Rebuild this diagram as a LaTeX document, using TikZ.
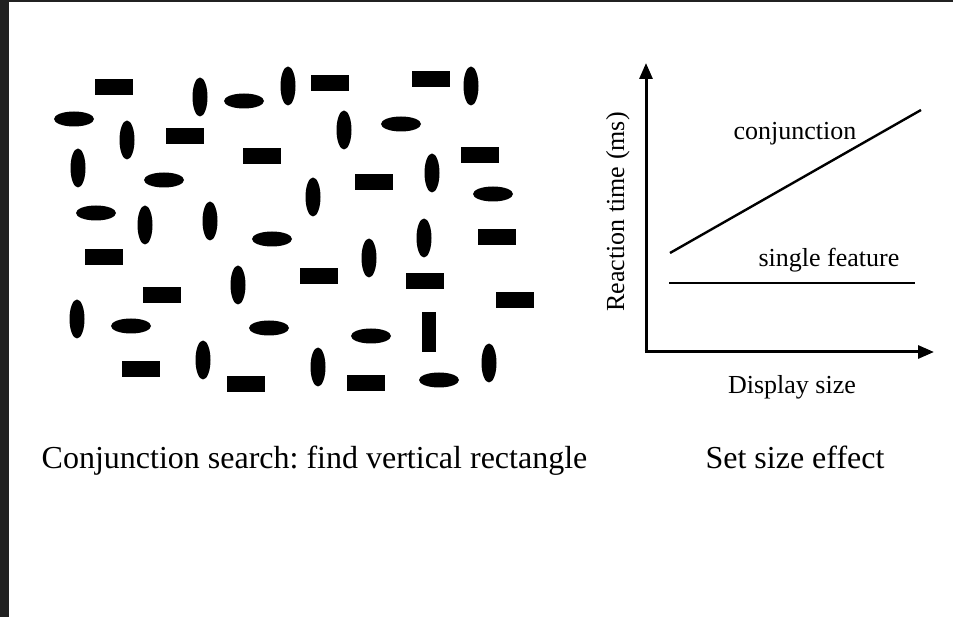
\documentclass[tikz,border=0pt]{standalone}
\usepackage{fontspec}
\setmainfont{Liberation Serif}
\usetikzlibrary{shapes.geometric,arrows.meta}
\frenchspacing

\tikzset{
  hrect/.style={rectangle, fill=black, inner sep=0pt, minimum width=38pt, minimum height=16pt},
  vrect/.style={rectangle, fill=black, inner sep=0pt, minimum width=14pt, minimum height=40pt},
  hell/.style={ellipse, fill=black, inner sep=0pt, minimum width=40pt, minimum height=15pt},
  vell/.style={ellipse, fill=black, inner sep=0pt, minimum width=15pt, minimum height=39pt},
  axis/.style={line width=3pt, -{Triangle[length=16pt,width=13pt]}},
  trend/.style={line width=2.4pt},
  lbl/.style={font=\fontsize{26}{30}\selectfont, inner sep=0pt, anchor=base},
  caption/.style={font=\fontsize{32}{36}\selectfont, inner sep=0pt, anchor=base}
}

\begin{document}
\begin{tikzpicture}[x=1pt, y=-1pt]
  % page and dark frame strips
  \fill[white] (0,0) rectangle (953,617);
  \useasboundingbox (0,0) rectangle (953,617);
  \fill[black!87] (0,0) rectangle (9,617);
  \fill[black!87] (0,0) rectangle (953,2);

  % search display: distractors and the target
  \node[hrect] (s1)  at (114,87)  {};
  \node[vell]  (s2)  at (200,97)  {};
  \node[hell]  (s3)  at (244,101) {};
  \node[vell]  (s4)  at (288,86)  {};
  \node[hrect] (s5)  at (330,83)  {};
  \node[hrect] (s6)  at (431,79)  {};
  \node[vell]  (s7)  at (471,86)  {};

  \node[hell]  (s8)  at (74,119)  {};
  \node[vell]  (s9)  at (127,140) {};
  \node[hrect] (s10) at (185,136) {};
  \node[hrect] (s11) at (262,156) {};
  \node[vell]  (s12) at (344,130) {};
  \node[hell]  (s13) at (401,124) {};
  \node[hrect] (s14) at (480,155) {};
  \node[vell]  (s15) at (432,173) {};

  \node[vell]  (s16) at (78,168)  {};
  \node[hell]  (s17) at (164,180) {};
  \node[vell]  (s18) at (313,197) {};
  \node[hrect] (s19) at (374,182) {};
  \node[hell]  (s20) at (493,194) {};

  \node[hell]  (s21) at (96,213)  {};
  \node[vell]  (s22) at (145,225) {};
  \node[vell]  (s23) at (210,221) {};
  \node[hell]  (s24) at (272,239) {};
  \node[vell]  (s25) at (369,258) {};
  \node[vell]  (s26) at (424,238) {};
  \node[hrect] (s27) at (497,237) {};

  \node[hrect] (s28) at (104,257) {};
  \node[hrect] (s29) at (162,295) {};
  \node[vell]  (s30) at (238,285) {};
  \node[hrect] (s31) at (319,276) {};
  \node[hrect] (s32) at (425,281) {};
  \node[hrect] (s33) at (515,300) {};

  \node[vell]  (s34) at (77,319)  {};
  \node[hell]  (s35) at (131,326) {};
  \node[hell]  (s36) at (269,328) {};
  \node[hell]  (s37) at (371,336) {};
  \node[vrect] (target) at (429,332) {};

  \node[hrect] (s38) at (141,369) {};
  \node[vell]  (s39) at (203,360) {};
  \node[hrect] (s40) at (246,384) {};
  \node[vell]  (s41) at (318,367) {};
  \node[hrect] (s42) at (366,383) {};
  \node[hell]  (s43) at (439,380) {};
  \node[vell]  (s44) at (489,363) {};

  % set size graph
  \coordinate (origin) at (646,352);
  \coordinate (ytip)   at (646,63);
  \coordinate (xtip)   at (934,352);
  \draw[axis] (origin) -- (ytip);
  \draw[axis] ([xshift=-1.5pt]origin) -- (xtip);

  \coordinate (conjA) at (670,253);
  \coordinate (conjB) at (921,110);
  \coordinate (featA) at (669,283);
  \coordinate (featB) at (915,283);
  \draw[trend] (conjA) -- (conjB);
  \draw[trend] (featA) -- (featB);

  \node[lbl] (lconj) at (795,140)   {conjunction};
  \node[lbl] (lfeat) at (829,266.5) {single feature};
  \node[lbl] (lx)    at (792,393)   {Display size};
  \node[lbl, rotate=90] (ly) at (624,212) {Reaction time (ms)};

  % captions
  \node[caption] (cap1) at (314.5,468) {Conjunction search: find vertical rectangle};
  \node[caption] (cap2) at (795,468)   {Set size effect};
\end{tikzpicture}
\end{document}
